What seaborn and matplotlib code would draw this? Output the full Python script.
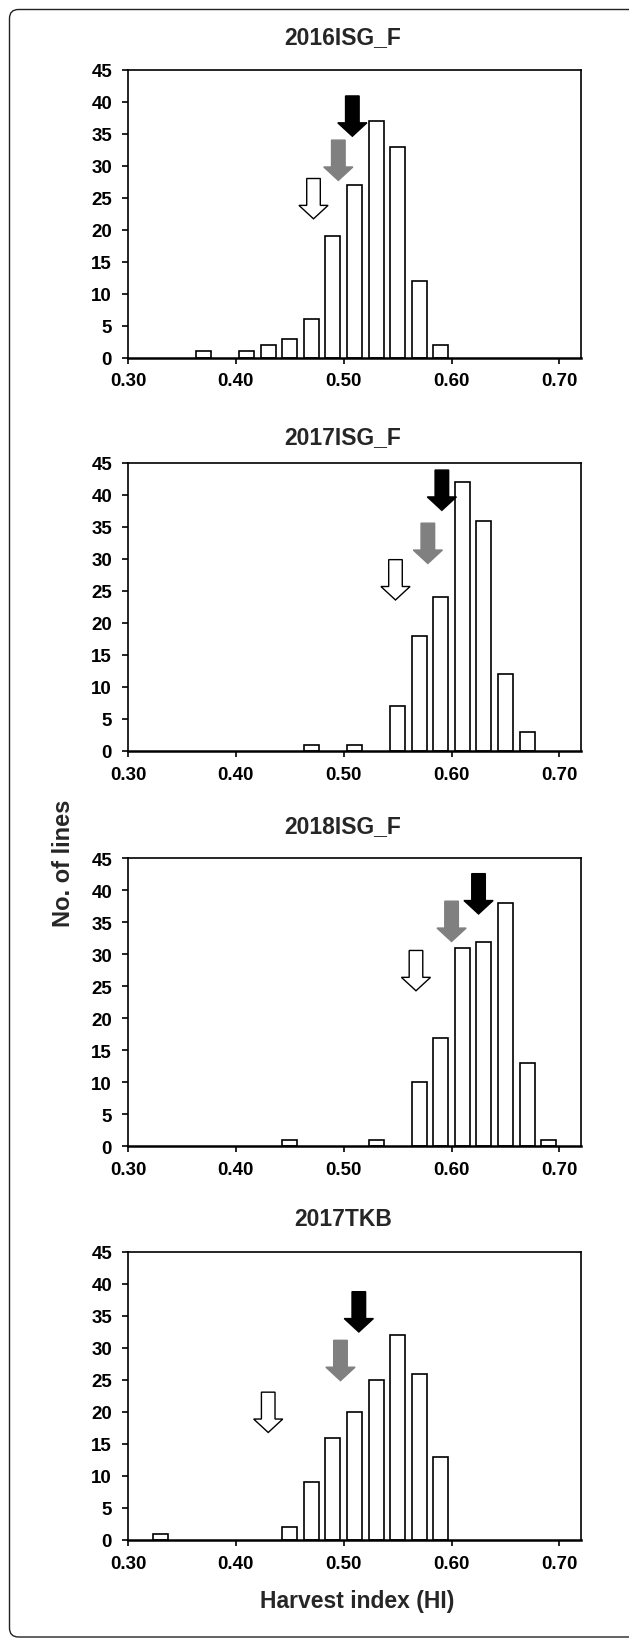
import numpy as np
import pandas as pd
import seaborn as sns
import matplotlib.pyplot as plt
from matplotlib.patches import FancyBboxPatch
from matplotlib.transforms import IdentityTransform

# Panel names
titles = ["2016ISG_F", "2017ISG_F", "2018ISG_F", "2017TKB"]

# Bin centres (HI) and number of lines
hi_2016isg = [0.37, 0.41, 0.43, 0.45, 0.47, 0.49, 0.51, 0.53, 0.55, 0.57, 0.59]
n_2016isg = [1, 1, 2, 3, 6, 19, 27, 37, 33, 12, 2]

hi_2017isg = [0.47, 0.51, 0.55, 0.57, 0.59, 0.61, 0.63, 0.65, 0.67]
n_2017isg = [1, 1, 7, 18, 24, 42, 36, 12, 3]

hi_2018isg = [0.45, 0.53, 0.57, 0.59, 0.61, 0.63, 0.65, 0.67, 0.69]
n_2018isg = [1, 1, 10, 17, 31, 32, 38, 13, 1]

hi_2017tkb = [0.33, 0.45, 0.47, 0.49, 0.51, 0.53, 0.55, 0.57, 0.59]
n_2017tkb = [1, 2, 9, 16, 20, 25, 32, 26, 13]

# Arrow markers: HI position and tip height (white, grey, black)
arrow_x_2016isg = [0.472, 0.495, 0.508]
arrow_tip_2016isg = [21.7, 27.7, 34.6]
arrow_x_2017isg = [0.548, 0.578, 0.591]
arrow_tip_2017isg = [23.6, 29.3, 37.6]
arrow_x_2018isg = [0.567, 0.600, 0.625]
arrow_tip_2018isg = [24.3, 32.0, 36.3]
arrow_x_2017tkb = [0.430, 0.497, 0.514]
arrow_tip_2017tkb = [16.8, 24.9, 32.5]

panels = [
    (hi_2016isg, n_2016isg, arrow_x_2016isg, arrow_tip_2016isg),
    (hi_2017isg, n_2017isg, arrow_x_2017isg, arrow_tip_2017isg),
    (hi_2018isg, n_2018isg, arrow_x_2018isg, arrow_tip_2018isg),
    (hi_2017tkb, n_2017tkb, arrow_x_2017tkb, arrow_tip_2017tkb),
]

arrow_face = ["white", "#808080", "black"]
arrow_edge = ["black", "#808080", "black"]

sns.set_theme(style="ticks")
plt.rcParams["font.family"] = ["Liberation Sans", "DejaVu Sans"]
plt.rcParams["font.weight"] = "bold"

W, H = 629, 1640
fig = plt.figure(figsize=(W / 100, H / 100), dpi=100)

# rounded outer frame
fig.patches.append(FancyBboxPatch((9.5, 2), 640, 1627.5,
                                  boxstyle="round,pad=0,rounding_size=9",
                                  transform=IdentityTransform(),
                                  fill=False, ec="#222222", lw=1.0))

ax_left, ax_w, ax_h = 128, 453, 288
ax_tops = [70.7, 464, 859.3, 1253]
title_y = [38, 438, 827, 1220]

for i, (hi, n, ax_x, ax_tip) in enumerate(panels):
    top = ax_tops[i]
    ax = fig.add_axes([ax_left / W, 1 - (top + ax_h) / H, ax_w / W, ax_h / H])
    df = pd.DataFrame({"HI": hi, "Lines": n})
    sns.barplot(data=df, x="HI", y="Lines", native_scale=True, width=0.69,
                color="white", saturation=1, edgecolor="black", linewidth=1.2,
                errorbar=None, orient="x", ax=ax)

    for j in range(3):
        ax.arrow(ax_x[j], ax_tip[j] + 6.3, 0, -6.3, width=0.0126,
                 head_width=0.027, head_length=2.1, length_includes_head=True,
                 fc=arrow_face[j], ec=arrow_edge[j], lw=1.0, zorder=5)

    ax.set_xlim(0.30, 0.72)
    ax.set_ylim(0, 45)
    ax.set_xticks([0.30, 0.40, 0.50, 0.60, 0.70])
    ax.set_xticklabels([f"{v:.2f}" for v in [0.30, 0.40, 0.50, 0.60, 0.70]])
    ax.set_yticks(range(0, 46, 5))
    ax.set_xlabel("")
    ax.set_ylabel("")
    ax.tick_params(axis="both", direction="out", length=4.5, width=1.2,
                   labelsize=13.5, colors="black")
    ax.tick_params(axis="x", pad=6)
    ax.tick_params(axis="y", pad=7)
    for s in ax.spines.values():
        s.set_visible(True)
        s.set_color("black")
        s.set_linewidth(1.2)
    ax.spines["bottom"].set_linewidth(1.8)

    ax.text(0.475, 1 - (title_y[i] - top) / ax_h, titles[i],
            transform=ax.transAxes, ha="center", va="center",
            fontsize=16.5, fontweight="bold")

fig.text(357 / W, 1 - 1602 / H, "Harvest index (HI)", ha="center", va="center",
         fontsize=16.5, fontweight="bold")
fig.text(63 / W, 1 - 863 / H, "No. of lines", ha="center", va="center",
         rotation=90, fontsize=17, fontweight="bold")

fig.savefig("out.png", dpi=100)
